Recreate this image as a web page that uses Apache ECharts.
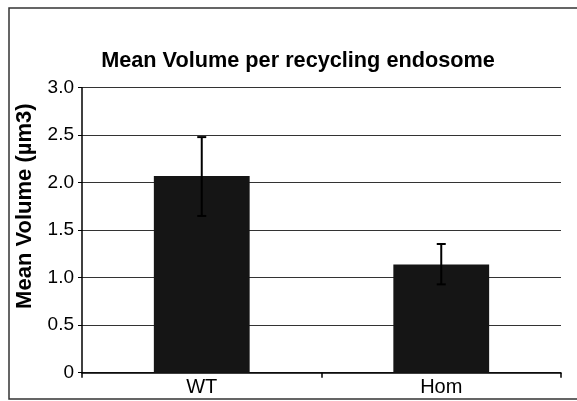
<!DOCTYPE html>
<html><head><meta charset="utf-8">
<script src="https://cdn.jsdelivr.net/npm/echarts@6/dist/echarts.min.js"></script>
<style>html,body{margin:0;padding:0;background:#fff}#c{width:577px;height:401px}</style>
</head><body><div id="c"></div>
<script>
var categories = ['WT', 'Hom'];
var means = [2.07, 1.14];
var errLow = [1.65, 0.93];
var errHigh = [2.48, 1.355];
var yTicks = [0, 0.5, 1.0, 1.5, 2.0, 2.5, 3.0];

var chart = echarts.init(document.getElementById('c'), null, {renderer: 'canvas'});
var errData = categories.map(function (c, i) { return [i, errLow[i], errHigh[i]]; });
var FF = 'Liberation Sans, Arial, sans-serif';
chart.setOption({
  animation: false,
  backgroundColor: '#fff',
  graphic: [{
    type: 'rect', shape: {x: 9, y: 8, width: 600, height: 391},
    style: {fill: 'none', stroke: '#333', lineWidth: 1.5}, z: -1
  }],
  title: {
    text: 'Mean Volume per recycling endosome',
    left: 293, top: 45, textAlign: 'center',
    textStyle: {fontFamily: FF, fontWeight: 'bold', fontSize: 21.7, color: '#000'}
  },
  grid: {left: 82, right: 16, top: 87.7, bottom: 28.3, containLabel: false},
  xAxis: {
    type: 'category', data: categories,
    axisLine: {lineStyle: {color: '#000', width: 1.5}},
    axisTick: {show: true, length: 5, lineStyle: {color: '#000', width: 1.5}},
    axisLabel: {fontFamily: FF, fontSize: 20, color: '#000', margin: 5}
  },
  yAxis: {
    type: 'value', min: 0, max: 3, interval: 0.5,
    name: 'Mean Volume (µm3)', nameLocation: 'middle', nameGap: 46,
    nameTextStyle: {fontFamily: FF, fontWeight: 'bold', fontSize: 22, color: '#000', padding: [0, 0, 0, 48]},
    axisLine: {show: true, lineStyle: {color: '#000', width: 1.5}},
    axisTick: {show: true, length: 4, lineStyle: {color: '#000'}},
    splitLine: {show: true, lineStyle: {color: '#333', width: 1.2}},
    axisLabel: {
      fontFamily: FF, fontSize: 19, color: '#000', margin: 8,
      formatter: function (v) { return v === 0 ? '0' : v.toFixed(1); }
    }
  },
  series: [{
    type: 'bar', data: means, barWidth: '40%',
    itemStyle: {color: '#151515'}, z: 2
  }, {
    type: 'custom', data: errData, z: 5,
    renderItem: function (params, api) {
      var x = api.coord([api.value(0), 0])[0];
      var lo = api.coord([api.value(0), api.value(1)])[1];
      var hi = api.coord([api.value(0), api.value(2)])[1];
      var hw = 4.5;
      var st = {stroke: '#000', lineWidth: 2};
      return {type: 'group', children: [
        {type: 'line', shape: {x1: x, y1: lo, x2: x, y2: hi}, style: st},
        {type: 'line', shape: {x1: x - hw, y1: lo, x2: x + hw, y2: lo}, style: st},
        {type: 'line', shape: {x1: x - hw, y1: hi, x2: x + hw, y2: hi}, style: st}
      ]};
    }
  }]
});
</script></body></html>
